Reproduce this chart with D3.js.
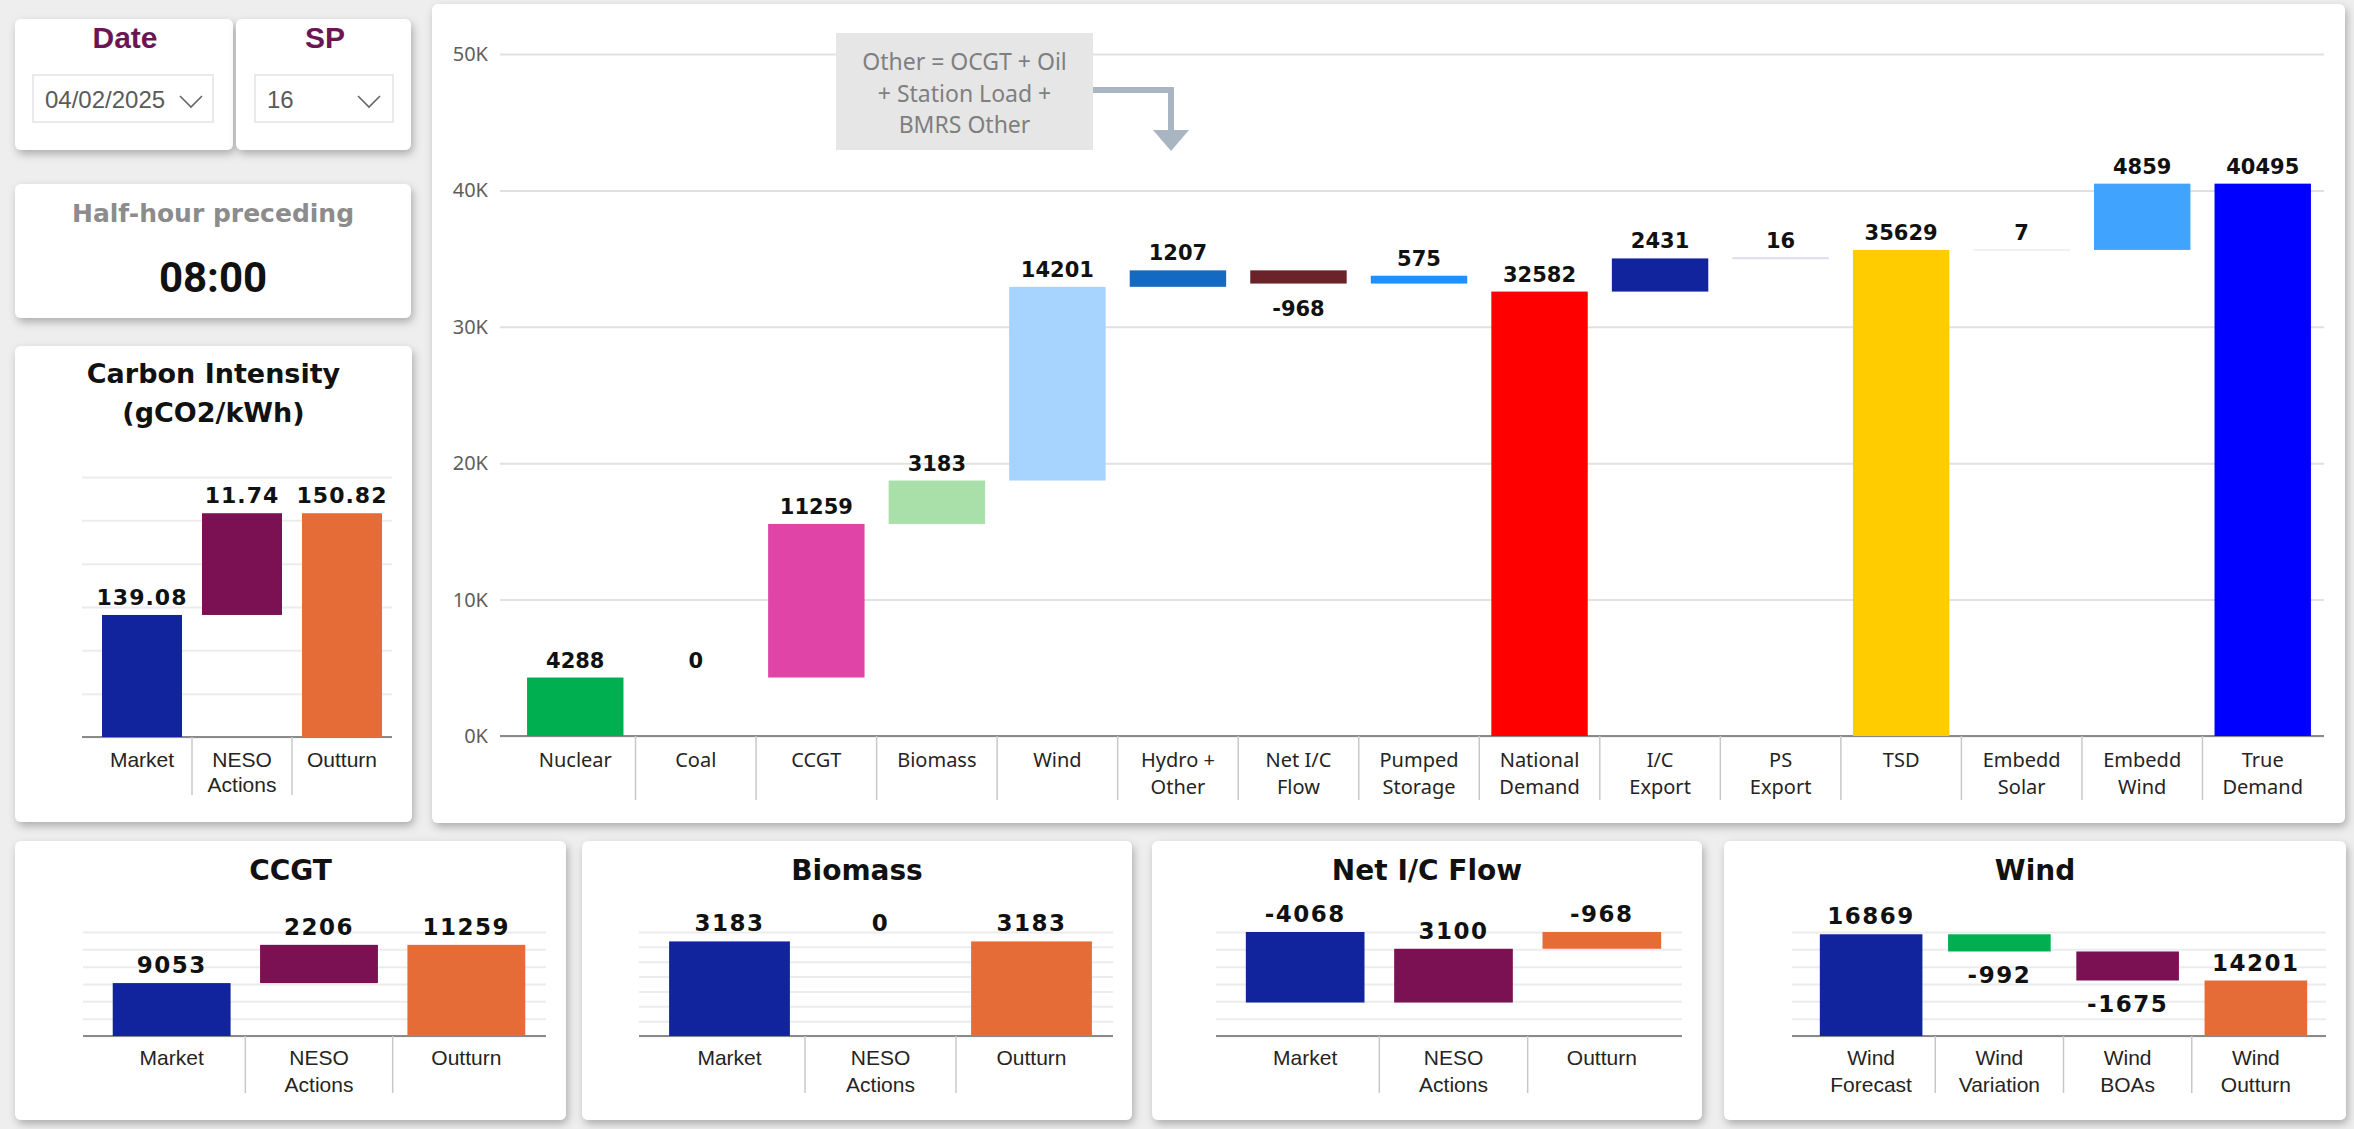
<!DOCTYPE html>
<html>
<head>
<meta charset="utf-8">
<script src="https://cdn.jsdelivr.net/npm/d3@7"></script>
<style>
html, body { margin: 0; padding: 0; background: #eeeeee; overflow: hidden; }
svg { display: block; }
</style>
</head>
<body>
<script>
// ---- data: main waterfall ----
var categories = ['Nuclear', 'Coal', 'CCGT', 'Biomass', 'Wind', 'Hydro + Other', 'Net I/C Flow', 'Pumped Storage',
  'National Demand', 'I/C Export', 'PS Export', 'TSD', 'Embedd Solar', 'Embedd Wind', 'True Demand']
var values = [4288, 0, 11259, 3183, 14201, 1207, -968, 575, 32582, 2431, 16, 35629, 7, 4859, 40495]
var kinds = ['d', 'd', 'd', 'd', 'd', 'd', 'd', 'd', 't', 'd', 'd', 't', 'd', 'd', 't'] // d = step, t = total
var colors = ['#00b050', '#333333', '#e044a7', '#a9dfa9', '#a6d3ff', '#1469c1', '#6b2229', '#1e90ff',
  '#ff0000', '#12239e', '#dcdcf0', '#ffcc00', '#f0f0f0', '#40a4ff', '#0000ff']
var yTicks = [0, 10000, 20000, 30000, 40000, 50000]
var note = ['Other = OCGT + Oil', '+ Station Load +', 'BMRS Other']

// ---- data: carbon intensity ----
var ciCats = ['Market', 'NESO Actions', 'Outturn']
var ciValues = [139.08, 11.74, 150.82]
var ciKinds = ['t', 'd', 't']
var ciTicks = [125, 130, 135, 140, 145, 150, 155]

// ---- data: small panels ----
var ccgtCats = ['Market', 'NESO Actions', 'Outturn']
var ccgtValues = [9053, 2206, 11259]
var ccgtTicks = [6000, 7000, 8000, 9000, 10000, 11000, 12000]

var bioCats = ['Market', 'NESO Actions', 'Outturn']
var bioValues = [3183, 0, 3183]
var bioTicks = [0, 500, 1000, 1500, 2000, 2500, 3000, 3500]

var icCats = ['Market', 'NESO Actions', 'Outturn']
var icValues = [-4068, 3100, -968]
var icTicks = [-6000, -5000, -4000, -3000, -2000, -1000, 0]

var windCats = ['Wind Forecast', 'Wind Variation', 'Wind BOAs', 'Wind Outturn']
var windValues = [16869, -992, -1675, 14201]
var windKinds = ['t', 'd', 'd', 't']
var windColors = ['#12239e', '#00b050', '#7b1153', '#e66c37']
var windTicks = [11000, 12000, 13000, 14000, 15000, 16000, 17000]

var threeKinds = ['t', 'd', 't']
var threeColors = ['#12239e', '#7b1153', '#e66c37']

// ---- header controls ----
var dateValue = '04/02/2025'
var spValue = '16'
var hhTitle = 'Half-hour preceding'
var hhValue = '08:00'

var W = 2354, H = 1129
var svg = d3.select('body').append('svg').attr('width', W).attr('height', H)

var defs = svg.append('defs')
defs.append('filter').attr('id', 'sh')
  .attr('x', '-5%').attr('y', '-5%').attr('width', '112%').attr('height', '115%')
  .append('feDropShadow').attr('dx', 2).attr('dy', 4).attr('stdDeviation', 4)
  .attr('flood-color', '#000').attr('flood-opacity', 0.28)

function panel (x0, y0, x1, y1) {
  svg.append('rect').attr('x', x0).attr('y', y0).attr('width', x1 - x0).attr('height', y1 - y0)
    .attr('rx', 6).attr('fill', '#fff').attr('filter', 'url(#sh)')
}

var LABEL_FONT = '"DejaVu Sans", Verdana, sans-serif'
var AXIS_FONT = '"Noto Sans", "Open Sans", sans-serif'
var ARIAL = '"Liberation Sans", Arial, sans-serif'

function wrap (sel, width, lineH) {
  sel.each(function () {
    var text = d3.select(this)
    var words = text.text().split(' ')
    var x = text.attr('x')
    var y = text.attr('y')
    text.text(null)
    var line = []
    var lineNo = 0
    var tspan = text.append('tspan').attr('x', x).attr('y', y)
    words.forEach(function (w) {
      line.push(w)
      tspan.text(line.join(' '))
      if (tspan.node().getComputedTextLength() > width && line.length > 1) {
        line.pop()
        tspan.text(line.join(' '))
        line = [w]
        lineNo++
        tspan = text.append('tspan').attr('x', x).attr('y', +y + lineNo * lineH).text(w)
      }
    })
  })
}

function steps (vals, ks) {
  var run = 0
  return vals.map(function (v, i) {
    var a, b
    if (ks[i] === 't') { a = 0; b = v; run = v } else { a = run; b = run + v; run = b }
    return { v: v, a: a, b: b, k: ks[i], i: i }
  })
}

// generic waterfall
function waterfall (o) {
  var g = svg.append('g')
  var x = d3.scaleBand().domain(o.cats).range([o.bx0, o.bx1]).paddingInner(0.2).paddingOuter(0.1)
  var y = d3.scaleLinear().domain(o.domain).range([o.ay, o.ty]).clamp(true)

  // gridlines
  var grid = g.append('g').attr('transform', 'translate(' + o.gx0 + ',0)')
    .call(d3.axisLeft(y).tickValues(o.ticks).tickSize(-(o.gx1 - o.gx0)).tickPadding(o.tickPad || 10)
      .tickFormat(o.tickFmt || function () { return '' }))
  grid.select('.domain').remove()
  grid.selectAll('.tick line').attr('stroke', o.gridColor || '#ececec').attr('stroke-width', 2)
  grid.selectAll('.tick text').attr('fill', '#605e5c').style('font-family', AXIS_FONT).style('font-size', '20px')

  // axis line
  g.append('line').attr('x1', o.gx0).attr('x2', o.gx1).attr('y1', y(o.domain[0])).attr('y2', y(o.domain[0]))
    .attr('stroke', '#8a8a8a').attr('stroke-width', 2)

  var data = steps(o.vals, o.kinds)
  var step = x.step()
  var bw = step * 0.8
  function cx (d) { return x(o.cats[d.i]) + x.bandwidth() / 2 }

  g.selectAll('rect.bar').data(data).enter().append('rect')
    .attr('class', 'bar')
    .attr('x', function (d) { return cx(d) - bw / 2 })
    .attr('width', bw)
    .attr('y', function (d) {
      var t = Math.min(y(d.a), y(d.b))
      var h = Math.abs(y(d.a) - y(d.b))
      return (d.v !== 0 && h < 2) ? t - 1 : t
    })
    .attr('height', function (d) {
      var h = Math.abs(y(d.a) - y(d.b))
      return (d.v !== 0 && h < 2) ? 2 : h
    })
    .attr('fill', function (d) { return o.colors[d.i] })

  g.selectAll('text.val').data(data).enter().append('text')
    .attr('class', 'val')
    .attr('x', cx)
    .attr('y', function (d) {
      var top = Math.min(y(d.a), y(d.b))
      var bot = Math.max(y(d.a), y(d.b))
      if (d.k === 't' || d.v >= 0) return top - 10
      return bot + 32
    })
    .attr('text-anchor', 'middle')
    .style('font-family', LABEL_FONT).style('font-weight', 'bold')
    .style('font-size', o.labelSize + 'px').style('letter-spacing', (o.ls || 0) + 'px')
    .attr('fill', '#111')
    .text(function (d) { return o.fmt ? o.fmt(d.v) : d.v })

  // separators between categories
  var ay = y(o.domain[0])
  o.cats.slice(1).forEach(function (c) {
    var sx = x(c) - step * 0.1
    g.append('line').attr('x1', sx).attr('x2', sx).attr('y1', ay).attr('y2', ay + o.sepLen)
      .attr('stroke', '#c8c8c8').attr('stroke-width', 1.5)
  })

  // category labels
  g.selectAll('text.cat').data(o.cats).enter().append('text')
    .attr('class', 'cat')
    .attr('x', function (c) { return x(c) + x.bandwidth() / 2 })
    .attr('y', ay + o.catDy)
    .attr('text-anchor', 'middle')
    .style('font-family', o.catFont).style('font-size', o.catSize + 'px')
    .attr('fill', '#252423')
    .text(function (c) { return c })
    .call(wrap, o.wrapW, o.lineH)
  return g
}

// ---- panels ----
panel(432, 4, 2345, 823)
panel(15, 19, 233, 150)
panel(236, 19, 411, 150)
panel(15, 184, 411, 318)
panel(15, 346, 412, 822)
panel(15, 841, 566, 1120)
panel(582, 841, 1132, 1120)
panel(1152, 841, 1702, 1120)
panel(1724, 841, 2346, 1120)

// ---- slicers ----
function slicer (title, cx, bx0, bx1, val, chevX) {
  svg.append('text').attr('x', cx).attr('y', 48).attr('text-anchor', 'middle')
    .style('font-family', ARIAL).style('font-weight', 'bold').style('font-size', '30px')
    .attr('fill', '#6b1654').text(title)
  svg.append('rect').attr('x', bx0).attr('y', 75).attr('width', bx1 - bx0).attr('height', 47)
    .attr('fill', '#fff').attr('stroke', '#e3e3e3').attr('stroke-width', 1.5)
  svg.append('text').attr('x', bx0 + 12).attr('y', 108)
    .style('font-family', ARIAL).style('font-size', '24px').attr('fill', '#5a5a5a').text(val)
  svg.append('polyline').attr('points', [[chevX, 96], [chevX + 11, 107], [chevX + 22, 96]].join(' '))
    .attr('fill', 'none').attr('stroke', '#666').attr('stroke-width', 1.6)
}
slicer('Date', 125, 33, 213, dateValue, 180)
slicer('SP', 325, 255, 393, spValue, 358)

svg.append('text').attr('x', 213).attr('y', 222).attr('text-anchor', 'middle')
  .style('font-family', LABEL_FONT).style('font-weight', 'bold').style('font-size', '25px')
  .attr('fill', '#8c8c8c').text(hhTitle)
svg.append('text').attr('x', 213).attr('y', 292).attr('text-anchor', 'middle')
  .style('font-family', 'Roboto, sans-serif').style('font-weight', 'bold').style('font-size', '42px')
  .attr('fill', '#111').text(hhValue)

// ---- titles ----
function title (txt, cx, y, size) {
  svg.append('text').attr('x', cx).attr('y', y).attr('text-anchor', 'middle')
    .style('font-family', LABEL_FONT).style('font-weight', 'bold').style('font-size', size + 'px')
    .attr('fill', '#111').text(txt)
}
title('Carbon Intensity', 213.5, 383, 27)
title('(gCO2/kWh)', 213.5, 422, 27)
title('CCGT', 290.5, 880, 28)
title('Biomass', 857, 880, 28)
title('Net I/C Flow', 1427, 880, 28)
title('Wind', 2035, 880, 28)

// ---- main waterfall ----
waterfall({
  cats: categories, vals: values, kinds: kinds, colors: colors,
  domain: [0, 50000], ticks: yTicks, ay: 736, ty: 54,
  gx0: 500, gx1: 2324, bx0: 515, bx1: 2323, gridColor: '#e1e1e1',
  tickFmt: function (d) { return d / 1000 + 'K' }, tickPad: 12,
  labelSize: 21, sepLen: 64, catDy: 31, catFont: AXIS_FONT, catSize: 20, wrapW: 84, lineH: 27
})

// note box + arrow
svg.append('rect').attr('x', 836).attr('y', 33).attr('width', 257).attr('height', 117).attr('fill', '#e6e6e6')
svg.selectAll('text.note').data(note).enter().append('text')
  .attr('x', 964.5).attr('y', function (d, i) { return 70 + i * 31.5 })
  .attr('text-anchor', 'middle')
  .style('font-family', AXIS_FONT).style('font-size', '23px').attr('fill', '#7f7f7f')
  .text(function (d) { return d })
svg.append('path').attr('d', 'M1093,90 H1171 V132').attr('fill', 'none')
  .attr('stroke', '#a9b5c1').attr('stroke-width', 6)
svg.append('path').attr('d', 'M1153,130 L1189,130 L1171,151 Z').attr('fill', '#a9b5c1')

// ---- carbon intensity ----
waterfall({
  cats: ciCats, vals: ciValues, kinds: ciKinds, colors: threeColors,
  domain: [125, 155], ticks: ciTicks, ay: 737, ty: 477,
  gx0: 82, gx1: 392, bx0: 92, bx1: 392,
  fmt: d3.format('.2f'), labelSize: 22, ls: 1,
  sepLen: 58, catDy: 30, catFont: ARIAL, catSize: 21, wrapW: 90, lineH: 25
})

// ---- bottom panels ----
function bottom (cats, vals, ks, cols, domain, ticks, gx0, gx1) {
  waterfall({
    cats: cats, vals: vals, kinds: ks, colors: cols,
    domain: domain, ticks: ticks, ay: 1036, ty: 932,
    gx0: gx0, gx1: gx1, bx0: gx0 + 15, bx1: gx1 - 6,
    labelSize: 23, ls: 1.5, sepLen: 57, catDy: 29, catFont: ARIAL, catSize: 21, wrapW: 90, lineH: 27
  })
}
bottom(ccgtCats, ccgtValues, threeKinds, threeColors, [6000, 12000], ccgtTicks, 83, 546)
bottom(bioCats, bioValues, threeKinds, threeColors, [0, 3500], bioTicks, 639, 1113)
bottom(icCats, icValues, threeKinds, threeColors, [-6000, 0], icTicks, 1216, 1682)
bottom(windCats, windValues, windKinds, windColors, [11000, 17000], windTicks, 1792, 2326)
</script>
</body>
</html>
